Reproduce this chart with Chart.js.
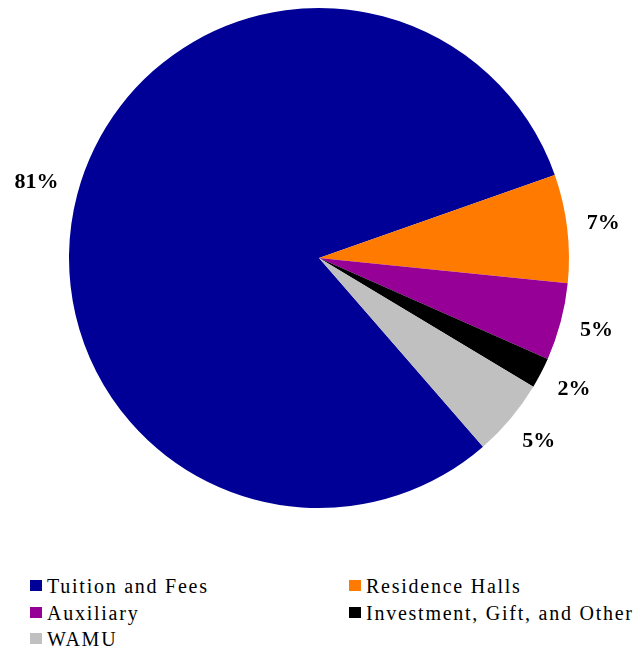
<!DOCTYPE html>
<html>
<head>
<meta charset="utf-8">
<script src="https://cdn.jsdelivr.net/npm/chart.js@4/dist/chart.umd.min.js"></script>
<style>
  html, body { margin: 0; padding: 0; background: #fff; }
  #wrap { position: relative; width: 636px; height: 650px; font-family: "Liberation Serif", serif; }
  #chart-box { position: absolute; left: 0; top: 0; width: 636px; height: 520px; }
  #legend {
    position: absolute; left: 30px; top: 573px; width: 606px;
    display: grid; grid-template-columns: 319px 287px;
    font-family: "Liberation Serif", serif;
    font-size: 20px; line-height: 26.5px; letter-spacing: 1.75px; color: #000;
  }
  .item { display: flex; align-items: flex-start; height: 26.5px; white-space: nowrap; }
  .swatch { width: 12px; height: 11px; margin-top: 7px; margin-right: 5px; flex: none; }
</style>
</head>
<body>
<div id="wrap">
  <div id="chart-box"><canvas id="revenuePie"></canvas></div>
  <div id="legend"></div>
</div>
<script>
// Revenue sources, share of total (%)
var sources = ['Tuition and Fees', 'Residence Halls', 'Auxiliary', 'Investment, Gift, and Other', 'WAMU'];
var shares = [81, 7, 5, 2, 5];
var sliceColors = ['#000096', '#FF7A00', '#960096', '#000000', '#C0C0C0'];

var LABEL_FONT = 'bold 22px "Liberation Serif", serif';

// Percent labels just outside each slice
var outsideLabels = {
  id: 'outsideLabels',
  afterDatasetsDraw: function (chart) {
    var ctx = chart.ctx;
    var meta = chart.getDatasetMeta(0);
    var total = shares.reduce(function (a, b) { return a + b; }, 0);
    ctx.save();
    ctx.font = LABEL_FONT;
    ctx.fillStyle = '#000';
    ctx.textAlign = 'center';
    ctx.textBaseline = 'middle';
    meta.data.forEach(function (arc, i) {
      var p = arc.getProps(['x', 'y', 'startAngle', 'endAngle', 'outerRadius'], true);
      var mid = (p.startAngle + p.endAngle) / 2;
      var text = Math.round(shares[i] / total * 100) + '%';
      var halfW = ctx.measureText(text).width / 2;
      var halfH = 8;
      var c = Math.cos(mid), s = Math.sin(mid);
      var r = p.outerRadius + 19 + halfW * Math.abs(c) + halfH * Math.abs(s);
      ctx.fillText(text, p.x + r * c, p.y + r * s - 1);
    });
    ctx.restore();
  }
};

var ctx = document.getElementById('revenuePie').getContext('2d');
var revenuePie = new Chart(ctx, {
  type: 'pie',
  data: {
    labels: sources,
    datasets: [{
      data: shares,
      backgroundColor: sliceColors,
      borderWidth: 0
    }]
  },
  options: {
    responsive: true,
    maintainAspectRatio: false,
    animation: false,
    rotation: 139,
    layout: { padding: { top: 8, bottom: 12, left: 69, right: 67 } },
    plugins: {
      legend: { display: false },
      tooltip: { enabled: false }
    }
  },
  plugins: [outsideLabels]
});

// Two-column legend built from the pie's own legend items
var items = revenuePie.options.plugins.legend.labels.generateLabels(revenuePie);
var legendEl = document.getElementById('legend');
items.forEach(function (it) {
  var row = document.createElement('div');
  row.className = 'item';
  var sw = document.createElement('span');
  sw.className = 'swatch';
  sw.style.background = it.fillStyle;
  var label = document.createElement('span');
  label.textContent = it.text;
  row.appendChild(sw);
  row.appendChild(label);
  legendEl.appendChild(row);
});

// redraw once the serif face is ready so canvas labels pick it up
if (document.fonts && document.fonts.load) {
  Promise.all([
    document.fonts.load(LABEL_FONT),
    document.fonts.load('20px "Liberation Serif"')
  ]).then(function () { revenuePie.update(); });
}
</script>
</body>
</html>
